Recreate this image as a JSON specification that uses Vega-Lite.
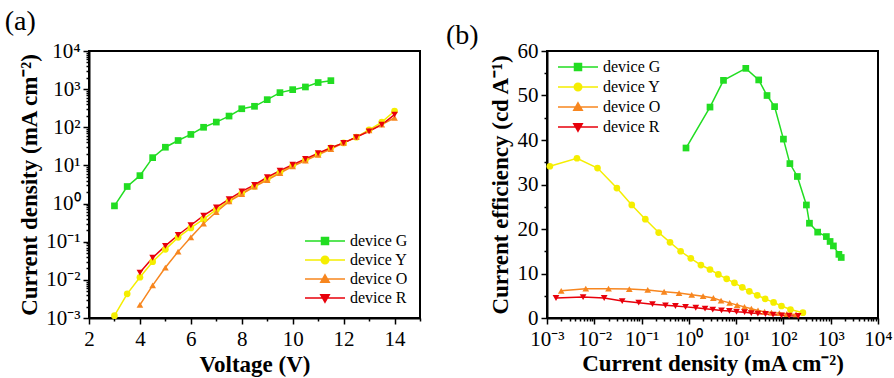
{
  "$schema": "https://vega.github.io/schema/vega-lite/v6.json",
  "background": "white",
  "padding": {"left": 3, "top": 7, "right": 5, "bottom": 5},
  "spacing": 127,
  "bounds": "flush",
  "config": {
    "font": "Liberation Serif",
    "view": {"stroke": "black", "strokeWidth": 2},
    "axis": {
      "grid": false,
      "domainColor": "black",
      "domainWidth": 2,
      "tickColor": "black",
      "tickWidth": 1.5,
      "labelColor": "black",
      "titleColor": "black",
      "labelFont": "Liberation Serif",
      "titleFont": "Liberation Serif",
      "labelFontSize": 21,
      "titleFontSize": 23,
      "titleFontWeight": "bold",
      "labelFlush": false,
      "labelOverlap": false
    },
    "legend": {
      "labelFont": "Liberation Serif",
      "labelFontSize": 16,
      "labelColor": "black",
      "padding": 0
    }
  },
  "datasets": {
    "jv": [
      {"device": "device G", "V": 3.0, "J": 0.87}, {"device": "device G", "V": 3.5, "J": 2.8}, {"device": "device G", "V": 4.0, "J": 5.4}, {"device": "device G", "V": 4.5, "J": 16}, {"device": "device G", "V": 5.0, "J": 30}, {"device": "device G", "V": 5.5, "J": 45}, {"device": "device G", "V": 6.0, "J": 65}, {"device": "device G", "V": 6.5, "J": 100}, {"device": "device G", "V": 7.0, "J": 137}, {"device": "device G", "V": 7.5, "J": 197}, {"device": "device G", "V": 8.0, "J": 306}, {"device": "device G", "V": 8.5, "J": 355}, {"device": "device G", "V": 9.0, "J": 530}, {"device": "device G", "V": 9.5, "J": 810}, {"device": "device G", "V": 10.0, "J": 970}, {"device": "device G", "V": 10.5, "J": 1140}, {"device": "device G", "V": 11.0, "J": 1490}, {"device": "device G", "V": 11.5, "J": 1670},
      {"device": "device Y", "V": 3.0, "J": 0.00115}, {"device": "device Y", "V": 3.5, "J": 0.0043}, {"device": "device Y", "V": 4.0, "J": 0.0117}, {"device": "device Y", "V": 4.5, "J": 0.030}, {"device": "device Y", "V": 5.0, "J": 0.063}, {"device": "device Y", "V": 5.5, "J": 0.13}, {"device": "device Y", "V": 6.0, "J": 0.23}, {"device": "device Y", "V": 6.5, "J": 0.39}, {"device": "device Y", "V": 7.0, "J": 0.69}, {"device": "device Y", "V": 7.5, "J": 1.18}, {"device": "device Y", "V": 8.0, "J": 1.85}, {"device": "device Y", "V": 8.5, "J": 2.8}, {"device": "device Y", "V": 9.0, "J": 4.4}, {"device": "device Y", "V": 9.5, "J": 6.6}, {"device": "device Y", "V": 10.0, "J": 10}, {"device": "device Y", "V": 10.5, "J": 14}, {"device": "device Y", "V": 11.0, "J": 20}, {"device": "device Y", "V": 11.5, "J": 29}, {"device": "device Y", "V": 12.0, "J": 39}, {"device": "device Y", "V": 12.5, "J": 55}, {"device": "device Y", "V": 13.0, "J": 86}, {"device": "device Y", "V": 13.5, "J": 137}, {"device": "device Y", "V": 14.0, "J": 267},
      {"device": "device O", "V": 4.0, "J": 0.0022}, {"device": "device O", "V": 4.5, "J": 0.0072}, {"device": "device O", "V": 5.0, "J": 0.021}, {"device": "device O", "V": 5.5, "J": 0.055}, {"device": "device O", "V": 6.0, "J": 0.13}, {"device": "device O", "V": 6.5, "J": 0.30}, {"device": "device O", "V": 7.0, "J": 0.60}, {"device": "device O", "V": 7.5, "J": 1.14}, {"device": "device O", "V": 8.0, "J": 1.78}, {"device": "device O", "V": 8.5, "J": 2.8}, {"device": "device O", "V": 9.0, "J": 4.1}, {"device": "device O", "V": 9.5, "J": 6.3}, {"device": "device O", "V": 10.0, "J": 9.5}, {"device": "device O", "V": 10.5, "J": 13.4}, {"device": "device O", "V": 11.0, "J": 19}, {"device": "device O", "V": 11.5, "J": 27}, {"device": "device O", "V": 12.0, "J": 39}, {"device": "device O", "V": 12.5, "J": 55}, {"device": "device O", "V": 13.0, "J": 83}, {"device": "device O", "V": 13.5, "J": 118}, {"device": "device O", "V": 14.0, "J": 178},
      {"device": "device R", "V": 4.0, "J": 0.0155}, {"device": "device R", "V": 4.5, "J": 0.038}, {"device": "device R", "V": 5.0, "J": 0.078}, {"device": "device R", "V": 5.5, "J": 0.15}, {"device": "device R", "V": 6.0, "J": 0.27}, {"device": "device R", "V": 6.5, "J": 0.48}, {"device": "device R", "V": 7.0, "J": 0.79}, {"device": "device R", "V": 7.5, "J": 1.3}, {"device": "device R", "V": 8.0, "J": 2.1}, {"device": "device R", "V": 8.5, "J": 3.1}, {"device": "device R", "V": 9.0, "J": 4.9}, {"device": "device R", "V": 9.5, "J": 7.3}, {"device": "device R", "V": 10.0, "J": 10.5}, {"device": "device R", "V": 10.5, "J": 14.8}, {"device": "device R", "V": 11.0, "J": 21}, {"device": "device R", "V": 11.5, "J": 29}, {"device": "device R", "V": 12.0, "J": 39}, {"device": "device R", "V": 12.5, "J": 55}, {"device": "device R", "V": 13.0, "J": 78}, {"device": "device R", "V": 13.5, "J": 117}, {"device": "device R", "V": 14.0, "J": 214}
    ],
    "ce": [
      {"device": "device G", "J": 0.87, "CE": 38.2}, {"device": "device G", "J": 2.8, "CE": 47.4}, {"device": "device G", "J": 5.4, "CE": 53.4}, {"device": "device G", "J": 16, "CE": 56.1}, {"device": "device G", "J": 30, "CE": 53.5}, {"device": "device G", "J": 45, "CE": 50.0}, {"device": "device G", "J": 65, "CE": 47.5}, {"device": "device G", "J": 100, "CE": 40.2}, {"device": "device G", "J": 137, "CE": 34.7}, {"device": "device G", "J": 197, "CE": 31.8}, {"device": "device G", "J": 306, "CE": 25.4}, {"device": "device G", "J": 355, "CE": 21.3}, {"device": "device G", "J": 530, "CE": 19.3}, {"device": "device G", "J": 810, "CE": 18.3}, {"device": "device G", "J": 970, "CE": 17.2}, {"device": "device G", "J": 1140, "CE": 16.2}, {"device": "device G", "J": 1490, "CE": 14.3}, {"device": "device G", "J": 1670, "CE": 13.6},
      {"device": "device Y", "J": 0.00115, "CE": 34.1}, {"device": "device Y", "J": 0.0043, "CE": 35.9}, {"device": "device Y", "J": 0.0117, "CE": 33.7}, {"device": "device Y", "J": 0.030, "CE": 29.2}, {"device": "device Y", "J": 0.062, "CE": 25.4}, {"device": "device Y", "J": 0.12, "CE": 22.2}, {"device": "device Y", "J": 0.23, "CE": 19.2}, {"device": "device Y", "J": 0.40, "CE": 17.0}, {"device": "device Y", "J": 0.67, "CE": 15.0}, {"device": "device Y", "J": 1.1, "CE": 13.4}, {"device": "device Y", "J": 1.8, "CE": 11.9}, {"device": "device Y", "J": 2.8, "CE": 10.9}, {"device": "device Y", "J": 4.2, "CE": 9.8}, {"device": "device Y", "J": 6.3, "CE": 8.8}, {"device": "device Y", "J": 9.2, "CE": 7.9}, {"device": "device Y", "J": 13.5, "CE": 6.9}, {"device": "device Y", "J": 19, "CE": 6.0}, {"device": "device Y", "J": 28, "CE": 5.1}, {"device": "device Y", "J": 41, "CE": 4.3}, {"device": "device Y", "J": 62, "CE": 3.5}, {"device": "device Y", "J": 91, "CE": 2.7}, {"device": "device Y", "J": 141, "CE": 1.9}, {"device": "device Y", "J": 258, "CE": 1.2},
      {"device": "device O", "J": 0.0020, "CE": 6.1}, {"device": "device O", "J": 0.0066, "CE": 6.6}, {"device": "device O", "J": 0.020, "CE": 6.6}, {"device": "device O", "J": 0.055, "CE": 6.5}, {"device": "device O", "J": 0.135, "CE": 6.3}, {"device": "device O", "J": 0.30, "CE": 5.9}, {"device": "device O", "J": 0.62, "CE": 5.6}, {"device": "device O", "J": 1.15, "CE": 5.2}, {"device": "device O", "J": 2.0, "CE": 4.9}, {"device": "device O", "J": 3.3, "CE": 4.5}, {"device": "device O", "J": 4.8, "CE": 3.9}, {"device": "device O", "J": 7.3, "CE": 3.4}, {"device": "device O", "J": 10.5, "CE": 2.9}, {"device": "device O", "J": 15, "CE": 2.5}, {"device": "device O", "J": 21, "CE": 2.1}, {"device": "device O", "J": 29, "CE": 1.7}, {"device": "device O", "J": 40, "CE": 1.4}, {"device": "device O", "J": 56, "CE": 1.2}, {"device": "device O", "J": 82, "CE": 1.1}, {"device": "device O", "J": 118, "CE": 0.9}, {"device": "device O", "J": 185, "CE": 0.8},
      {"device": "device R", "J": 0.00155, "CE": 4.5}, {"device": "device R", "J": 0.0058, "CE": 4.7}, {"device": "device R", "J": 0.0162, "CE": 4.5}, {"device": "device R", "J": 0.039, "CE": 3.8}, {"device": "device R", "J": 0.087, "CE": 3.45}, {"device": "device R", "J": 0.17, "CE": 3.1}, {"device": "device R", "J": 0.32, "CE": 2.85}, {"device": "device R", "J": 0.52, "CE": 2.7}, {"device": "device R", "J": 0.85, "CE": 2.5}, {"device": "device R", "J": 1.4, "CE": 2.3}, {"device": "device R", "J": 2.2, "CE": 2.1}, {"device": "device R", "J": 3.2, "CE": 1.9}, {"device": "device R", "J": 4.9, "CE": 1.7}, {"device": "device R", "J": 7.2, "CE": 1.6}, {"device": "device R", "J": 10.2, "CE": 1.4}, {"device": "device R", "J": 15.1, "CE": 1.3}, {"device": "device R", "J": 20.9, "CE": 1.1}, {"device": "device R", "J": 28.8, "CE": 1.0}, {"device": "device R", "J": 41.7, "CE": 0.9}, {"device": "device R", "J": 60.3, "CE": 0.75}, {"device": "device R", "J": 91.2, "CE": 0.6}, {"device": "device R", "J": 132, "CE": 0.5}, {"device": "device R", "J": 205, "CE": 0.45}
    ]
  },
  "resolve": {"legend": {"color": "independent"}},
  "hconcat": [
    {
      "width": 331,
      "height": 267,
      "title": {"text": "(a)", "anchor": "start", "frame": "bounds", "fontSize": 28, "font": "Liberation Serif", "fontWeight": "normal", "color": "black", "dx": -14, "offset": 4},
      "data": {"name": "jv"},
      "encoding": {
        "x": {
          "field": "V", "type": "quantitative",
          "scale": {"domain": [2, 15], "nice": false, "zero": false},
          "axis": {
            "title": "Voltage (V)",
            "values": [2, 3, 4, 5, 6, 7, 8, 9, 10, 11, 12, 13, 14, 15],
            "labelExpr": "datum.value % 2 === 0 ? datum.label : ''",
            "tickSize": {"condition": {"test": "datum.value % 2 === 0", "value": 6}, "value": 3},
            "labelPadding": 4,
            "titlePadding": 4
          }
        },
        "y": {
          "field": "J", "type": "quantitative",
          "scale": {"type": "log", "domain": [0.001, 10000], "nice": false},
          "axis": {
            "title": "Current density (mA cm⁻²)",
            "values": [0.001, 0.002, 0.003, 0.004, 0.005, 0.006, 0.007, 0.008, 0.009, 0.01, 0.02, 0.03, 0.04, 0.05, 0.06, 0.07, 0.08, 0.09, 0.1, 0.2, 0.3, 0.4, 0.5, 0.6, 0.7, 0.8, 0.9, 1, 2, 3, 4, 5, 6, 7, 8, 9, 10, 20, 30, 40, 50, 60, 70, 80, 90, 100, 200, 300, 400, 500, 600, 700, 800, 900, 1000, 2000, 3000, 4000, 5000, 6000, 7000, 8000, 9000, 10000],
            "labelExpr": "abs(log(datum.value)/LN10 - round(log(datum.value)/LN10)) < 0.001 ? '10' + replace(replace(replace(replace(replace(replace('' + round(log(datum.value)/LN10), '-', '⁻'), '0', '⁰'), '1', '¹'), '2', '²'), '3', '³'), '4', '⁴') : ''",
            "tickSize": {"condition": {"test": "abs(log(datum.value)/LN10 - round(log(datum.value)/LN10)) < 0.001", "value": 6}, "value": 3},
            "labelPadding": 3,
            "titlePadding": 4
          }
        },
        "color": {
          "field": "device", "type": "nominal",
          "scale": {"domain": ["device G", "device Y", "device O", "device R"], "range": ["#22dd22", "#f5ee00", "#f7861f", "#e8000b"]},
          "legend": {
            "title": null,
            "orient": "bottom-right",
            "offset": 12,
            "symbolSize": 100,
            "labelOffset": 32,
            "rowPadding": 3,
            "encode": {
              "symbols": {
                "update": {
                  "shape": {"signal": "datum.value === 'device G' ? 'M-1,0H7M2.3,-0.7H3.7V0.7H2.3Z' : datum.value === 'device Y' ? 'M-1,0H7M3.75,0A0.75,0.75 0 1,1 2.25,0A0.75,0.75 0 1,1 3.75,0Z' : datum.value === 'device O' ? 'M-1,0H7M3,-0.85L3.85,0.65H2.15Z' : 'M-1,0H7M3,0.85L3.85,-0.65H2.15Z'"},
                  "fill": {"signal": "datum.value === 'device G' ? '#22dd22' : datum.value === 'device Y' ? '#f5ee00' : datum.value === 'device O' ? '#f7861f' : '#e8000b'"},
                  "stroke": {"signal": "datum.value === 'device G' ? '#22dd22' : datum.value === 'device Y' ? '#f5ee00' : datum.value === 'device O' ? '#f7861f' : '#e8000b'"},
                  "strokeWidth": {"value": 1.5},
                  "opacity": {"value": 1}
                }
              }
            }
          }
        }
      },
      "layer": [
        {"mark": {"type": "line", "strokeWidth": 1.5}},
        {
          "mark": {"type": "point", "filled": true, "opacity": 1, "size": 45},
          "encoding": {
            "shape": {"field": "device", "type": "nominal", "scale": {"domain": ["device G", "device Y", "device O", "device R"], "range": ["square", "circle", "triangle-up", "triangle-down"]}, "legend": null}
          }
        }
      ]
    },
    {
      "width": 331,
      "height": 267,
      "title": {"text": "(b)", "anchor": "start", "frame": "bounds", "fontSize": 28, "font": "Liberation Serif", "fontWeight": "normal", "color": "black", "dx": -43, "dy": 10, "offset": 0},
      "data": {"name": "ce"},
      "encoding": {
        "x": {
          "field": "J", "type": "quantitative",
          "scale": {"type": "log", "domain": [0.001, 10000], "nice": false},
          "axis": {
            "title": "Current density (mA cm⁻²)",
            "values": [0.001, 0.002, 0.003, 0.004, 0.005, 0.006, 0.007, 0.008, 0.009, 0.01, 0.02, 0.03, 0.04, 0.05, 0.06, 0.07, 0.08, 0.09, 0.1, 0.2, 0.3, 0.4, 0.5, 0.6, 0.7, 0.8, 0.9, 1, 2, 3, 4, 5, 6, 7, 8, 9, 10, 20, 30, 40, 50, 60, 70, 80, 90, 100, 200, 300, 400, 500, 600, 700, 800, 900, 1000, 2000, 3000, 4000, 5000, 6000, 7000, 8000, 9000, 10000],
            "labelExpr": "abs(log(datum.value)/LN10 - round(log(datum.value)/LN10)) < 0.001 ? '10' + replace(replace(replace(replace(replace(replace('' + round(log(datum.value)/LN10), '-', '⁻'), '0', '⁰'), '1', '¹'), '2', '²'), '3', '³'), '4', '⁴') : ''",
            "tickSize": {"condition": {"test": "abs(log(datum.value)/LN10 - round(log(datum.value)/LN10)) < 0.001", "value": 6}, "value": 3},
            "labelPadding": 4,
            "titlePadding": 3
          }
        },
        "y": {
          "field": "CE", "type": "quantitative",
          "scale": {"domain": [0, 60], "nice": false},
          "axis": {
            "title": "Current efficiency (cd A⁻¹)",
            "values": [0, 5, 10, 15, 20, 25, 30, 35, 40, 45, 50, 55, 60],
            "labelExpr": "datum.value % 10 === 0 ? datum.label : ''",
            "tickSize": {"condition": {"test": "datum.value % 10 === 0", "value": 6}, "value": 3},
            "labelPadding": 3,
            "titlePadding": 5
          }
        },
        "color": {
          "field": "device", "type": "nominal",
          "scale": {"domain": ["device G", "device Y", "device O", "device R"], "range": ["#22dd22", "#f5ee00", "#f7861f", "#e8000b"]},
          "legend": {
            "title": null,
            "orient": "top-left",
            "offset": 8,
            "symbolSize": 100,
            "labelOffset": 32,
            "rowPadding": 4,
            "encode": {
              "symbols": {
                "update": {
                  "shape": {"signal": "datum.value === 'device G' ? 'M-1,0H7M2.3,-0.7H3.7V0.7H2.3Z' : datum.value === 'device Y' ? 'M-1,0H7M3.75,0A0.75,0.75 0 1,1 2.25,0A0.75,0.75 0 1,1 3.75,0Z' : datum.value === 'device O' ? 'M-1,0H7M3,-0.85L3.85,0.65H2.15Z' : 'M-1,0H7M3,0.85L3.85,-0.65H2.15Z'"},
                  "fill": {"signal": "datum.value === 'device G' ? '#22dd22' : datum.value === 'device Y' ? '#f5ee00' : datum.value === 'device O' ? '#f7861f' : '#e8000b'"},
                  "stroke": {"signal": "datum.value === 'device G' ? '#22dd22' : datum.value === 'device Y' ? '#f5ee00' : datum.value === 'device O' ? '#f7861f' : '#e8000b'"},
                  "strokeWidth": {"value": 1.5},
                  "opacity": {"value": 1}
                }
              }
            }
          }
        }
      },
      "layer": [
        {"mark": {"type": "line", "strokeWidth": 1.5}},
        {
          "mark": {"type": "point", "filled": true, "opacity": 1, "size": 45},
          "encoding": {
            "shape": {"field": "device", "type": "nominal", "scale": {"domain": ["device G", "device Y", "device O", "device R"], "range": ["square", "circle", "triangle-up", "triangle-down"]}, "legend": null}
          }
        }
      ]
    }
  ]
}
